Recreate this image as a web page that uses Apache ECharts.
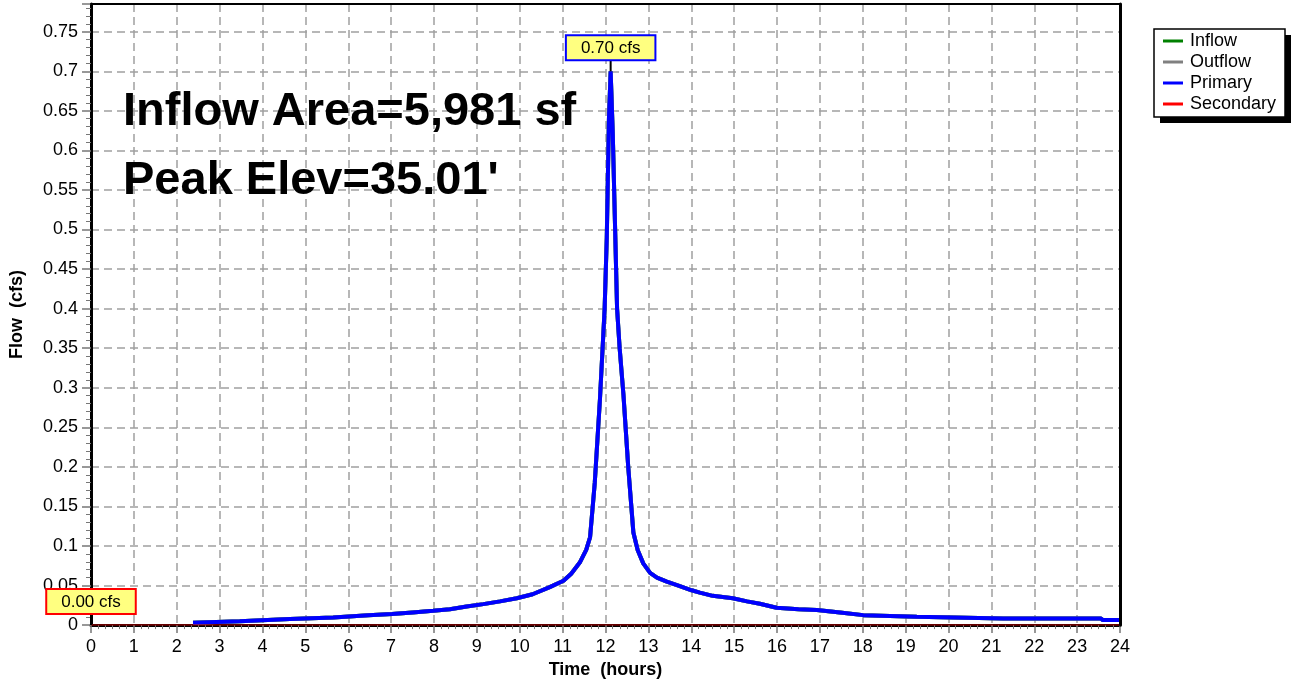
<!DOCTYPE html>
<html>
<head>
<meta charset="utf-8">
<script src="https://cdn.jsdelivr.net/npm/echarts@6/dist/echarts.min.js"></script>
<style>
html, body { margin: 0; padding: 0; background: #fff; }
#flowChart { width: 1294px; height: 684px; }
</style>
</head>
<body>
<div id="flowChart"></div>
<script>
// hydrograph data, hours / cfs
var times = [2.38, 3.47, 4.64, 5.65, 6.47, 7.02, 7.5, 7.98, 8.37, 8.76, 9.15, 9.54, 9.93, 10.3, 10.7,
	11.02, 11.2, 11.4, 11.55, 11.64, 11.75, 11.87, 11.98, 12.03, 12.08, 12.12, 12.17, 12.22, 12.27,
	12.33, 12.42, 12.53, 12.65, 12.75, 12.88, 13.04, 13.2, 13.43, 13.7, 14.01, 14.2, 14.5, 14.97,
	15.3, 15.6, 15.99, 16.5, 16.93, 17.47, 18.01, 19.26, 21.28, 23.55, 23.6, 24];
var primaryFlow = [0.003, 0.005, 0.0076, 0.0097, 0.0126, 0.014, 0.016, 0.018, 0.020, 0.0236, 0.0265, 0.030, 0.034, 0.039, 0.048,
	0.056, 0.065, 0.079, 0.095, 0.111, 0.18, 0.285, 0.40, 0.49, 0.64, 0.70, 0.62, 0.51, 0.40,
	0.35, 0.29, 0.20, 0.117, 0.095, 0.078, 0.066, 0.060, 0.055, 0.050, 0.044, 0.041, 0.037, 0.034,
	0.030, 0.027, 0.022, 0.020, 0.019, 0.016, 0.0126, 0.0105, 0.0084, 0.0084, 0.0063, 0.0063];
// inflow and outflow coincide with primary
var inflowFlow = primaryFlow;
var outflowFlow = primaryFlow;
var secondaryTimes = [0, 24];
var secondaryFlow = [0, 0];

var seriesNames = ['Inflow', 'Outflow', 'Primary', 'Secondary'];
var noteLines = ['Inflow Area=5,981 sf', "Peak Elev=35.01'"];

function pairs(xs, ys) {
	return xs.map(function (x, i) { return [x, ys[i]]; });
}

var font = 'Liberation Sans, Arial, sans-serif';
var dashLine = { lineStyle: { color: '#a0a0a0', type: [8, 5], width: 1.5 } };

function peakLabel(border) {
	return {
		symbol: 'rect',
		symbolSize: [2, 12],
		symbolOffset: [0, -6],
		itemStyle: { color: '#000' },
		label: {
			show: true,
			position: 'top',
			distance: 0,
			formatter: function (p) { return p.value.toFixed(2) + ' cfs'; },
			color: '#000',
			fontFamily: font,
			fontSize: 17,
			lineHeight: 18,
			backgroundColor: '#ffff80',
			borderColor: border,
			borderWidth: 2,
			padding: [3, 14, 2, 14]
		},
		data: [{ type: 'max' }]
	};
}

// plain frame line for the top / right edges
function frameAxis(pos, w) {
	return {
		type: 'value', position: pos, z: 5,
		min: 0, max: pos == 'top' ? 24 : 0.785,
		axisLine: { show: true, onZero: false, lineStyle: { color: '#000', width: w } },
		axisTick: { show: false }, axisLabel: { show: false }, splitLine: { show: false }
	};
}

var myChart = echarts.init(document.getElementById('flowChart'));

option = {
	backgroundColor: '#fff',
	animation: false,
	color: ['#008000', '#808080', '#0000ff', '#ff0000'],
	textStyle: { fontFamily: font },
	grid: { left: 91, right: 174, top: 4, bottom: 58 },
	legend: {
		data: seriesNames,
		orient: 'vertical',
		left: 1154,
		top: 29,
		z: 10,
		icon: 'rect',
		itemWidth: 20,
		itemHeight: 3,
		itemGap: 3,
		padding: [3, 5, 4, 9],
		textStyle: { color: '#000', fontSize: 18, lineHeight: 18, padding: [0, 0, 0, 2] }
	},
	graphic: [
		// legend box with its drop shadow
		{ type: 'rect', z: 1, shape: { x: 1160, y: 35, width: 131, height: 88 }, style: { fill: '#000' } },
		{ type: 'rect', z: 2, shape: { x: 1154, y: 29, width: 131, height: 88 }, style: { fill: '#fff', stroke: '#000', lineWidth: 1.5 } },
		{ type: 'text', z: 10, left: 123, top: 89, style: { text: noteLines[0], font: 'bold 47px ' + font, fill: '#000' } },
		{ type: 'text', z: 10, left: 123, top: 158, style: { text: noteLines[1], font: 'bold 47px ' + font, fill: '#000' } }
	],
	xAxis: [{
		type: 'value',
		min: 0,
		max: 24,
		interval: 1,
		name: 'Time  (hours)',
		nameLocation: 'middle',
		nameGap: 35,
		nameTextStyle: { color: '#000', fontWeight: 'bold', fontSize: 18 },
		axisLine: { onZero: false, lineStyle: { color: '#000', width: 3 } },
		axisTick: { length: 8, lineStyle: { color: '#777', width: 1.5 } },
		minorTick: { show: true, splitNumber: 6, length: 4, lineStyle: { color: '#777' } },
		axisLabel: { color: '#000', fontSize: 18, margin: 13 },
		splitLine: dashLine
	}, frameAxis('top', 2)],
	yAxis: [{
		type: 'value',
		min: 0,
		max: 0.785,
		interval: 0.05,
		name: 'Flow  (cfs)',
		nameLocation: 'middle',
		nameGap: 65,
		nameTextStyle: { color: '#000', fontWeight: 'bold', fontSize: 18 },
		axisLine: { show: true, lineStyle: { color: '#000', width: 3 } },
		axisTick: { show: true, length: 9, lineStyle: { color: '#777', width: 1.5 } },
		minorTick: { show: true, splitNumber: 5, length: 5, lineStyle: { color: '#777' } },
		axisLabel: { color: '#000', fontSize: 18, margin: 13, showMaxLabel: false },
		splitLine: dashLine
	}, frameAxis('right', 3)],
	series: [{
			name: 'Inflow',
			type: 'line',
			symbol: 'none',
			lineStyle: { width: 4 },
			data: pairs(times, inflowFlow)
		},
		{
			name: 'Outflow',
			type: 'line',
			symbol: 'none',
			lineStyle: { width: 4 },
			data: pairs(times, outflowFlow)
		},
		{
			name: 'Primary',
			type: 'line',
			symbol: 'none',
			lineStyle: { width: 4 },
			data: pairs(times, primaryFlow),
			markPoint: peakLabel('#0000ff')
		},
		{
			name: 'Secondary',
			type: 'line',
			symbol: 'none',
			lineStyle: { width: 1 },
			data: pairs(secondaryTimes, secondaryFlow),
			markPoint: peakLabel('#ff0000')
		}
	]
};

myChart.setOption(option);
</script>
</body>
</html>
